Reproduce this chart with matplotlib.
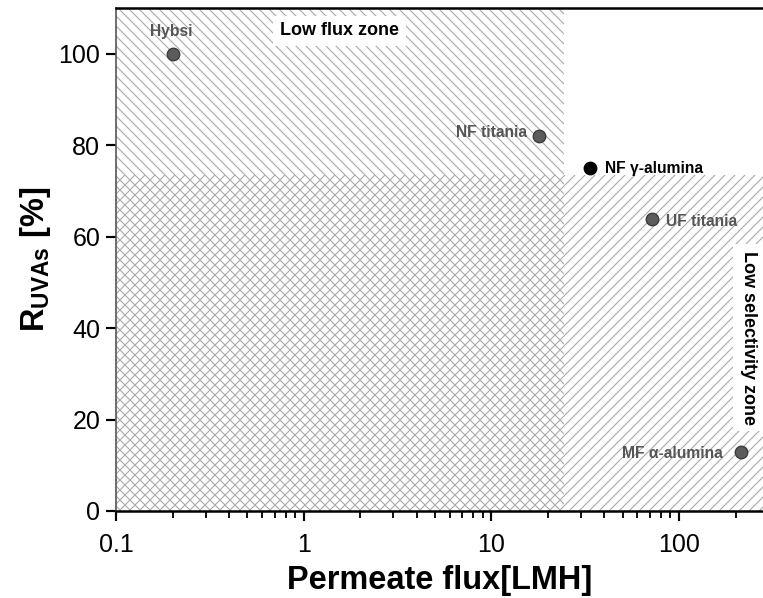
import matplotlib
matplotlib.use("Agg")
import matplotlib.pyplot as plt

plt.rcParams['font.family'] = ['Liberation Sans', 'DejaVu Sans']
plt.rcParams['mathtext.fontset'] = 'custom'
plt.rcParams['mathtext.rm'] = 'Liberation Sans'
plt.rcParams['mathtext.bf'] = 'Liberation Sans:bold'
plt.rcParams['hatch.linewidth'] = 0.65

# Data
membranes = ["Hybsi", "NF titania", "NF γ-alumina", "UF titania", "MF α-alumina"]
flux = [0.2, 18, 33.6, 72, 214]
rejection = [100, 82, 75, 63.8, 12.9]
highlight = [False, False, True, False, False]

flux_limit = 24.5        # low flux zone boundary
selectivity_limit = 73.5 # low selectivity zone boundary
xmin, xmax = 0.1, 280
ymin, ymax = 0, 110

# label offsets (pixels) and alignment
offsets = [(-1, 22, 'center'), (-12, 4, 'right'), (15, 0, 'left'), (14, -2, 'left'), (-18, -1, 'right')]

fig = plt.figure(figsize=(763/120, 598/120), dpi=120)
ax = fig.add_axes([116/763, 1-511/598, 1-116/763, 503/598])

ax.set_xscale('log')
ax.set_xlim(xmin, xmax)
ax.set_ylim(ymin, ymax)

hatch_col = '#a8a8a8'
ax.fill_between([xmin, flux_limit], ymin, ymax, facecolor='none', edgecolor=hatch_col,
                linewidth=0, hatch='\\\\\\\\', zorder=1)
ax.fill_between([xmin, xmax], ymin, selectivity_limit, facecolor='none', edgecolor=hatch_col,
                linewidth=0, hatch='////', zorder=1)

for name, fx, rj, hl, (dx, dy, ha) in zip(membranes, flux, rejection, highlight, offsets):
    fc = '#000000' if hl else '#5c5c5c'
    ec = '#000000' if hl else '#3a3a3a'
    tc = '#000000' if hl else '#555555'
    ax.plot([fx], [rj], 'o', ms=7.5, mfc=fc, mec=ec, mew=0.8, zorder=3, clip_on=False)
    ax.annotate(name, (fx, rj), xytext=(dx, dy), textcoords='offset pixels',
                ha=ha, va='center', fontsize=9.4, fontweight='bold', color=tc, zorder=4)

ax.text(1.55, 105, "Low flux zone", ha='center', va='center', fontsize=10.8,
        fontweight='bold', color='black', zorder=4,
        bbox=dict(facecolor='white', edgecolor='none', pad=4))
ax.text(233, 37.9, "Low selectivity zone", ha='center', va='center', rotation=-90,
        fontsize=10.8, fontweight='bold', color='black', zorder=4,
        bbox=dict(facecolor='white', edgecolor='none', pad=4))

ax.set_xticks([0.1, 1, 10, 100])
ax.set_xticklabels(["0.1", "1", "10", "100"])
ax.set_yticks([0, 20, 40, 60, 80, 100])
ax.tick_params(axis='both', which='major', direction='out', length=6, width=1.3,
               labelsize=15, colors='black')
ax.tick_params(axis='x', which='minor', direction='out', length=4, width=1.1)
ax.tick_params(axis='y', which='minor', left=False)
ax.tick_params(axis='x', pad=7)

for s in ['top', 'bottom']:
    ax.spines[s].set_linewidth(1.5)
ax.spines['left'].set_linewidth(1.0)
ax.spines['left'].set_color('#555555')
ax.spines['right'].set_visible(False)

ax.set_xlabel("Permeate flux[LMH]", fontsize=19.5, fontweight='bold', labelpad=5)
ax.set_ylabel(r"R$_{\mathbf{UVAs}}$ [%]", fontsize=19.5, fontweight='bold', labelpad=3)

fig.savefig("out.png", dpi=120)
